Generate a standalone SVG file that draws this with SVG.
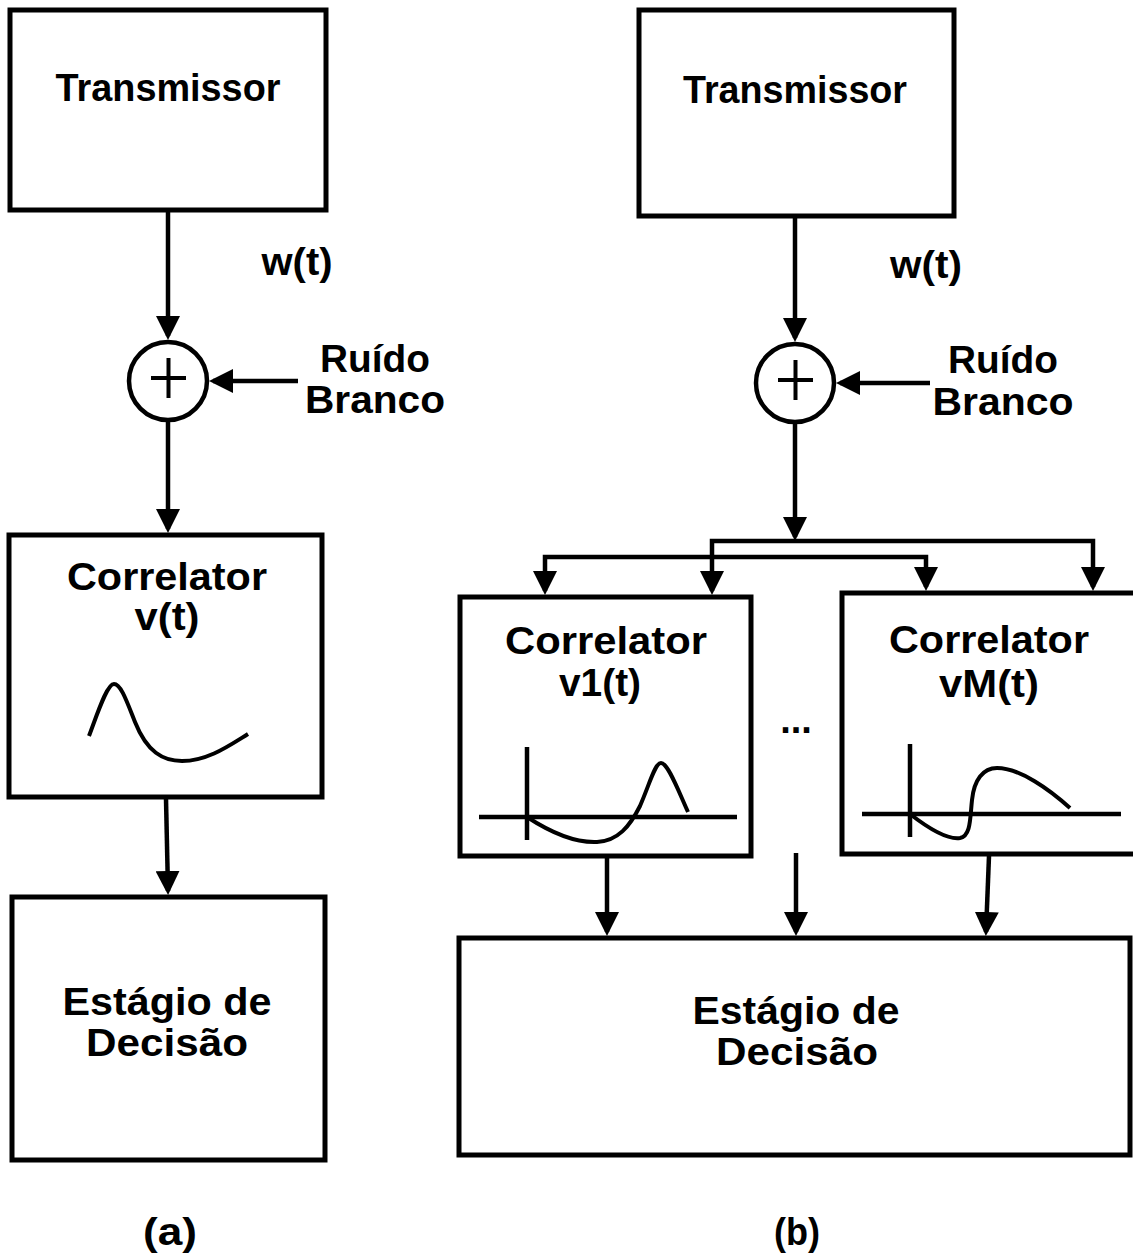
<svg xmlns="http://www.w3.org/2000/svg" width="1133" height="1260" viewBox="0 0 1133 1260">
<style>
.box{fill:#fff;stroke:#000;stroke-width:5}
.ln{fill:none;stroke:#000;stroke-width:4.5}
.wave{fill:none;stroke:#000;stroke-width:4;stroke-linecap:butt}
.sum{fill:#fff;stroke:#000;stroke-width:4.5}
.plus{fill:none;stroke:#000;stroke-width:4}
.t{font-family:"Liberation Sans",Arial,sans-serif;font-weight:bold;font-size:38px;fill:#000;text-anchor:middle}
</style>
<defs>
<marker id="ah" markerUnits="userSpaceOnUse" markerWidth="24" markerHeight="24" refX="20" refY="12" orient="auto-start-reverse" viewBox="0 0 24 24">
<path d="M0,0 L24,12 L0,24 z" fill="#000"/>
</marker>
</defs>
<rect width="1133" height="1260" fill="#fff"/>

<g id="connectors">
<path class="ln" d="M168,212 L168,336" marker-end="url(#ah)"/>
<path class="ln" d="M298,381 L213,381" marker-end="url(#ah)"/>
<path class="ln" d="M168,422 L168,529" marker-end="url(#ah)"/>
<path class="ln" d="M166,799 L168,891" marker-end="url(#ah)"/>
<path class="ln" d="M795,218 L795,338" marker-end="url(#ah)"/>
<path class="ln" d="M930,383 L840,383" marker-end="url(#ah)"/>
<path class="ln" d="M795,424 L795,537" marker-end="url(#ah)"/>
<path class="ln" d="M712,591 L712,541 L1093,541 L1093,587" marker-start="url(#ah)" marker-end="url(#ah)"/>
<path class="ln" d="M545,591 L545,557 L926,557 L926,587" marker-start="url(#ah)" marker-end="url(#ah)"/>
<path class="ln" d="M607,858 L607,932" marker-end="url(#ah)"/>
<path class="ln" d="M796,853 L796,932" marker-end="url(#ah)"/>
<path class="ln" d="M989,856 L986,932" marker-end="url(#ah)"/>
</g>

<g id="a-transmissor">
<rect class="box" x="10" y="10" width="316" height="200"/>
<text class="t" x="168" y="101" textLength="225" lengthAdjust="spacingAndGlyphs">Transmissor</text>
</g>
<g id="a-wt"><text class="t" x="297" y="275" textLength="71" lengthAdjust="spacingAndGlyphs">w(t)</text></g>
<g id="a-somador">
<circle class="sum" cx="168" cy="381" r="39"/>
<path class="plus" d="M151,378 L186,378 M168.5,358 L168.5,398"/>
</g>
<g id="a-ruido">
<text class="t" x="375" y="372" textLength="110" lengthAdjust="spacingAndGlyphs">Ruído</text>
<text class="t" x="375" y="413" textLength="140" lengthAdjust="spacingAndGlyphs">Branco</text>
</g>
<g id="a-correlator">
<rect class="box" x="9" y="535" width="313" height="262"/>
<text class="t" x="167" y="590" textLength="200" lengthAdjust="spacingAndGlyphs">Correlator</text>
<text class="t" x="167" y="630" textLength="65" lengthAdjust="spacingAndGlyphs">v(t)</text>
<path class="wave" d="M89,736 C98,712 107,684 114,684 C121,684 127,702 135,722 C147,752 163,761 182,761 C208,761 230,745 248,734"/>
</g>
<g id="a-decisao">
<rect class="box" x="12" y="897" width="313" height="263"/>
<text class="t" x="167" y="1015" textLength="209" lengthAdjust="spacingAndGlyphs">Estágio de</text>
<text class="t" x="167" y="1056" textLength="162" lengthAdjust="spacingAndGlyphs">Decisão</text>
</g>
<g id="a-label"><text class="t" x="170" y="1245" textLength="54" lengthAdjust="spacingAndGlyphs">(a)</text></g>

<g id="b-transmissor">
<rect class="box" x="639" y="10" width="315" height="206"/>
<text class="t" x="795" y="103" textLength="224" lengthAdjust="spacingAndGlyphs">Transmissor</text>
</g>
<g id="b-wt"><text class="t" x="926" y="278" textLength="72" lengthAdjust="spacingAndGlyphs">w(t)</text></g>
<g id="b-somador">
<circle class="sum" cx="795" cy="383" r="39"/>
<path class="plus" d="M778,380 L813,380 M795.5,360 L795.5,400"/>
</g>
<g id="b-ruido">
<text class="t" x="1003" y="373" textLength="110" lengthAdjust="spacingAndGlyphs">Ruído</text>
<text class="t" x="1003" y="415" textLength="141" lengthAdjust="spacingAndGlyphs">Branco</text>
</g>
<g id="b-correlator1">
<rect class="box" x="460" y="597" width="291" height="259"/>
<text class="t" x="606" y="654" textLength="202" lengthAdjust="spacingAndGlyphs">Correlator</text>
<text class="t" x="600" y="696" textLength="82" lengthAdjust="spacingAndGlyphs">v1(t)</text>
<path class="ln" d="M527,747 L527,840 M479,817 L737,817"/>
<path class="wave" d="M527,817 C550,832 575,843 597,842 C618,841 630,826 640,806 C650,783 655,763 661,763 C668,763 678,790 688,812"/>
</g>
<g id="b-dots"><text class="t" x="796" y="733">...</text></g>
<g id="b-correlatorM">
<rect class="box" x="842" y="593" width="300" height="261"/>
<text class="t" x="989" y="653" textLength="200" lengthAdjust="spacingAndGlyphs">Correlator</text>
<text class="t" x="989" y="697" textLength="100" lengthAdjust="spacingAndGlyphs">vM(t)</text>
<path class="ln" d="M910,744 L910,837 M862,814 L1121,814"/>
<path class="wave" d="M910,814 C928,828 947,840 960,838 C971,836 970,818 972,800 C974,780 983,768 997,768 C1020,768 1050,790 1070,808"/>
</g>
<g id="b-decisao">
<rect class="box" x="459" y="938" width="671" height="217"/>
<text class="t" x="796" y="1024" textLength="207" lengthAdjust="spacingAndGlyphs">Estágio de</text>
<text class="t" x="797" y="1065" textLength="162" lengthAdjust="spacingAndGlyphs">Decisão</text>
</g>
<g id="b-label"><text class="t" x="797" y="1245" textLength="46" lengthAdjust="spacingAndGlyphs">(b)</text></g>
</svg>
